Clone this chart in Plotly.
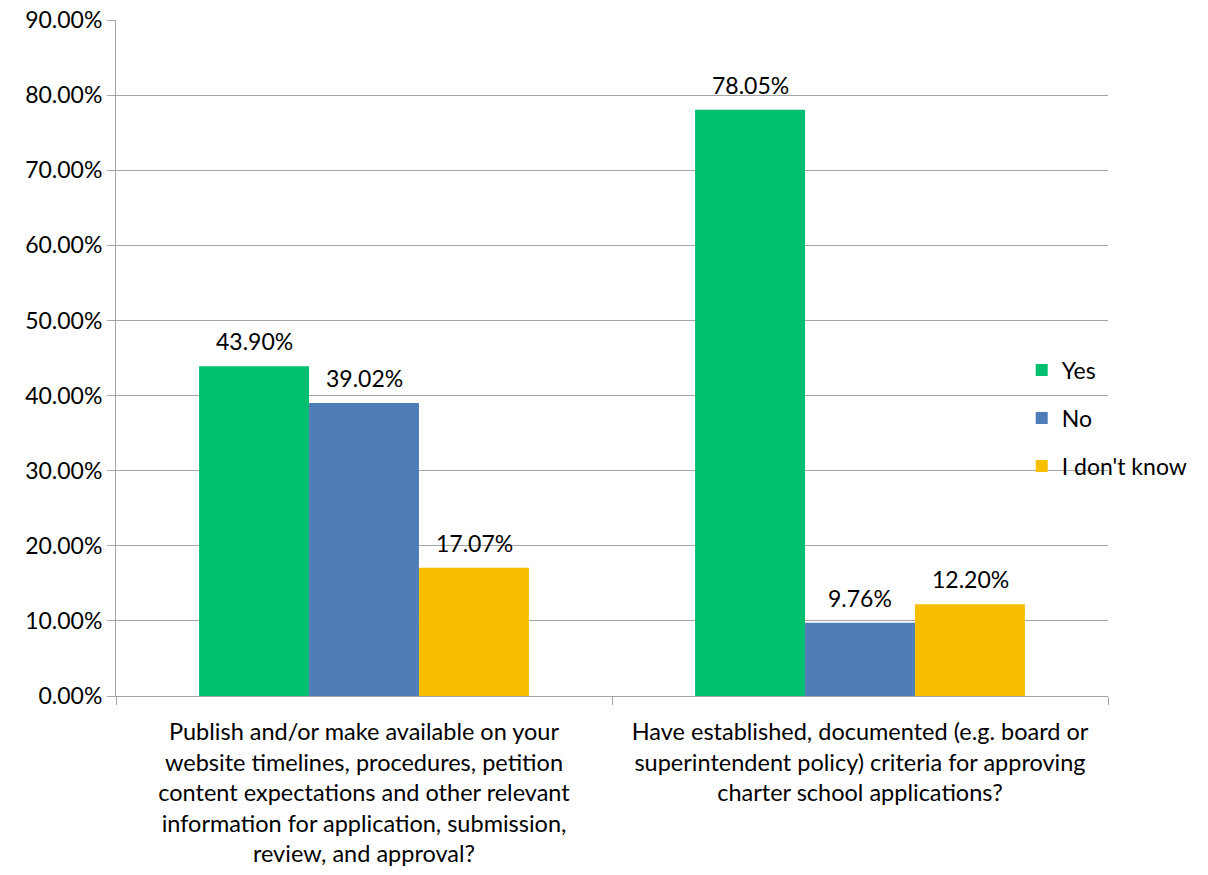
import plotly.graph_objects as go

categories = [
    "Publish and/or make available on your<br>website timelines, procedures, petition<br>content expectations and other relevant<br>information for application, submission,<br>review, and approval?",
    "Have established, documented (e.g. board or<br>superintendent policy) criteria for approving<br>charter school applications?",
]
yes_vals = [0.4390, 0.7805]
no_vals = [0.3902, 0.0976]
idk_vals = [0.1707, 0.1220]
series_names = ["Yes", "No", "I don't know"]
colors = ["#00BF6F", "#4F7DB8", "#F8BF00"]
FONT = "Lato"

fig = go.Figure()
all_vals = [yes_vals, no_vals, idk_vals]
bar_px = 110
for i, (name, vals, col) in enumerate(zip(series_names, all_vals, colors)):
    fig.add_trace(go.Bar(
        x=categories, y=vals, name=name, marker_color=col,
        marker_line_width=0, legendgroup=str(i),
    ))
    for c, v in zip(categories, vals):
        fig.add_annotation(x=c, y=v, text=f"{v:.2%}", showarrow=False,
                           xanchor="center", yanchor="bottom",
                           xshift=(i - 1) * bar_px, yshift=9,
                           font=dict(size=23, color="black", family=FONT))

fig.update_layout(
    width=1208, height=875,
    margin=dict(l=116, r=100, t=20, b=179, autoexpand=False),
    plot_bgcolor="white", paper_bgcolor="white",
    barmode="group", bargap=0.335, bargroupgap=0,
    font=dict(family=FONT, size=23, color="black"),
    legend=dict(x=0.913, y=0.411, xanchor="left", yanchor="middle",
                bgcolor="rgba(0,0,0,0)", tracegroupgap=15,
                font=dict(size=23, family=FONT)),
)
fig.update_yaxes(range=[0, 0.9], dtick=0.1, tickformat=".2%",
                 showgrid=True, gridcolor="#A6A6A6", gridwidth=1,
                 showline=True, linecolor="#A6A6A6", linewidth=1,
                 ticks="outside", ticklen=8, tickcolor="#A6A6A6",
                 zeroline=False, tickfont=dict(size=23), automargin=False)
fig.update_xaxes(showline=True, linecolor="#A6A6A6", linewidth=1,
                 ticks="outside", ticklen=8, tickcolor="#A6A6A6",
                 tickson="boundaries", tickfont=dict(size=23.5),
                 ticklabelstandoff=15, automargin=False)

fig.write_html("out.html")
